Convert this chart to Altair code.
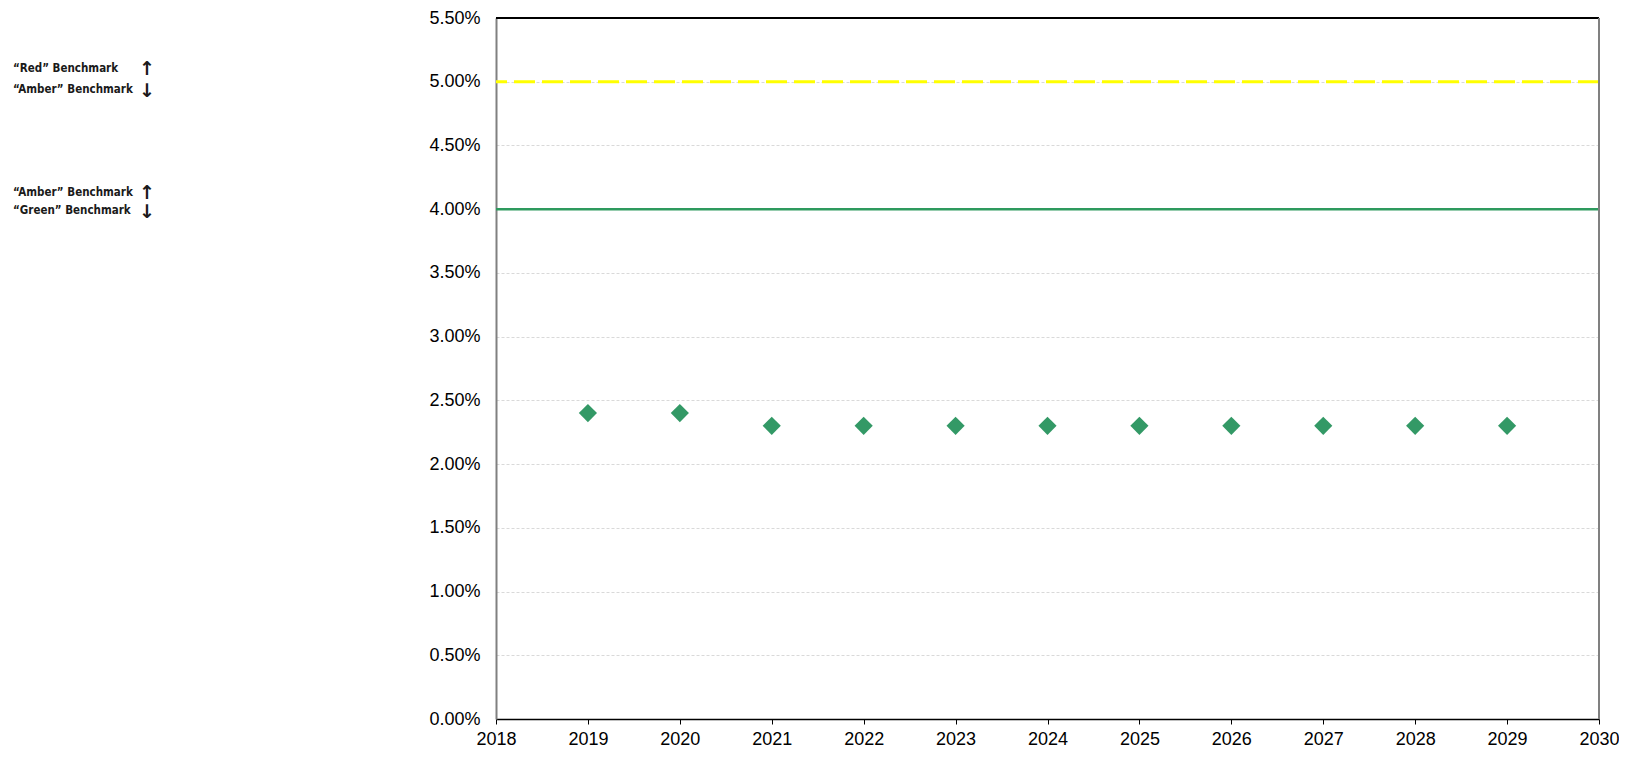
import altair as alt
import pandas as pd

years = [2019, 2020, 2021, 2022, 2023, 2024, 2025, 2026, 2027, 2028, 2029]
values = [0.024, 0.024, 0.023, 0.023, 0.023, 0.023, 0.023, 0.023, 0.023, 0.023, 0.023]
red_amber = 0.05
amber_green = 0.04
y_ticks = [0, 0.005, 0.01, 0.015, 0.02, 0.025, 0.03, 0.035, 0.04, 0.045, 0.05, 0.055]
x_ticks = list(range(2018, 2031))
x_min, x_max = 2018, 2030
y_max = 0.055

ann_upper = ["\u201cRed\u201d Benchmark", "\u201cAmber\u201d Benchmark"]
ann_lower = ["\u201cAmber\u201d Benchmark", "\u201cGreen\u201d Benchmark"]

pts = pd.DataFrame({"year": years, "value": values})

xs = alt.Scale(domain=[x_min, x_max], nice=False, zero=False)
ys = alt.Scale(domain=[0, y_max], nice=False)

points = alt.Chart(pts).mark_point(shape="diamond", filled=True, size=330,
                                   color="#339966", opacity=1).encode(
    x=alt.X("year:Q", scale=xs,
            axis=alt.Axis(values=x_ticks, format="d", title=None, grid=False,
                          domainColor="#000000", domainWidth=1.5,
                          tickColor="#000000", tickSize=5, tickWidth=1,
                          labelPadding=6, labelFontSize=18, labelFlush=False,
                          labelFont="Liberation Sans", labelColor="#000000")),
    y=alt.Y("value:Q", scale=ys,
            axis=alt.Axis(values=y_ticks, format=".2%", title=None, grid=True,
                          gridColor="#d9d9d9", gridDash=[3, 2], gridWidth=1,
                          domainColor="#808080", domainWidth=2, ticks=False,
                          labelPadding=16, labelFontSize=18, labelFlush=False,
                          labelFont="Liberation Sans", labelColor="#000000")),
)

yellow = alt.Chart(pd.DataFrame({"v": [red_amber]})).mark_rule(
    color="#FFFF00", strokeWidth=3, strokeDash=[21, 7]).encode(
    y=alt.Y("v:Q", scale=ys))

green = alt.Chart(pd.DataFrame({"v": [amber_green]})).mark_rule(
    color="#2E9A5E", strokeWidth=2.5).encode(
    y=alt.Y("v:Q", scale=ys))

top_border = alt.Chart(pd.DataFrame({"v": [y_max]})).mark_rule(
    color="#000000", strokeWidth=2).encode(
    y=alt.Y("v:Q", scale=ys))

right_border = alt.Chart(pd.DataFrame({"v": [x_max]})).mark_rule(
    color="#808080", strokeWidth=2).encode(
    x=alt.X("v:Q", scale=xs))

layers = [yellow, green, top_border, right_border, points]

ann_specs = [
    (ann_upper[0], red_amber, -13),
    (ann_upper[1], red_amber, 8),
    (ann_lower[0], amber_green, -16),
    (ann_lower[1], amber_green, 2),
]
for label, yv, dy in ann_specs:
    layers.append(
        alt.Chart(pd.DataFrame({"t": [label], "v": [yv]})).mark_text(
            align="left", baseline="middle", dy=dy, font="DejaVu Sans Condensed",
            fontWeight="bold", fontSize=11.5, color="#1a1a1a").encode(
            x=alt.value(-483), y=alt.Y("v:Q", scale=ys), text="t:N"))

arrow_specs = [
    ("\u2191", red_amber, -13),
    ("\u2193", red_amber, 9),
    ("\u2191", amber_green, -16),
    ("\u2193", amber_green, 3),
]
for label, yv, dy in arrow_specs:
    layers.append(
        alt.Chart(pd.DataFrame({"t": [label], "v": [yv]})).mark_text(
            align="center", baseline="middle", dy=dy, font="DejaVu Sans",
            fontWeight="bold", fontSize=19, color="#1a1a1a").encode(
            x=alt.value(-349), y=alt.Y("v:Q", scale=ys), text="t:N"))

chart = alt.layer(*layers).properties(
    width=1103, height=701,
    autosize=alt.AutoSizeParams(type="none"),
    padding={"left": 488, "top": 10, "right": 20, "bottom": 30},
).configure_view(stroke=None)

chart.save("out.html", embed_options={"renderer": "svg", "actions": False})
